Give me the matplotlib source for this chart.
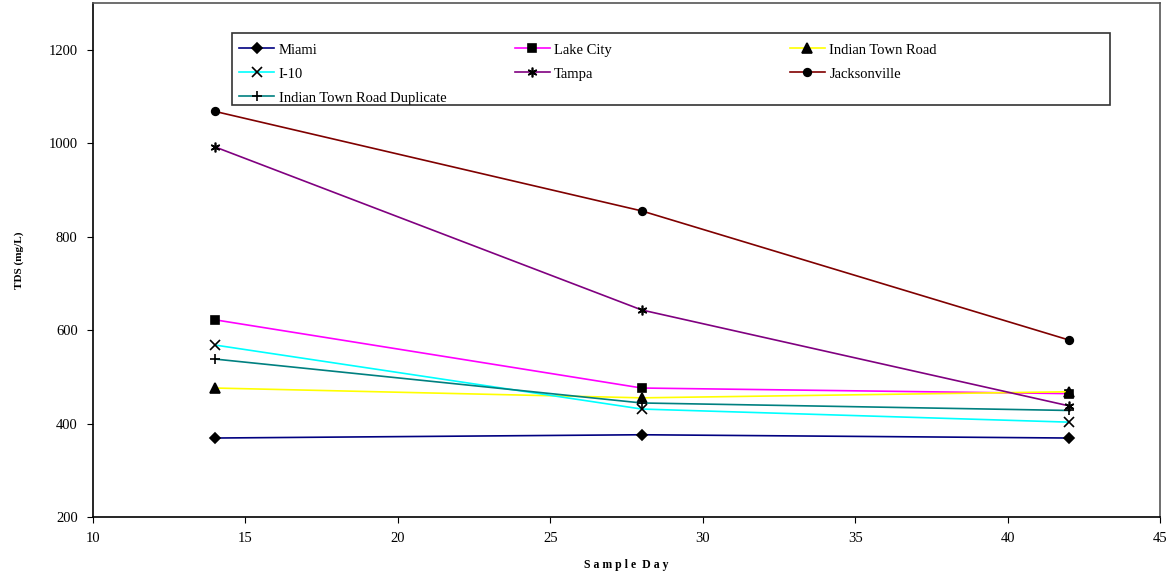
import matplotlib
matplotlib.use('Agg')
import matplotlib.pyplot as plt
from matplotlib.legend import Legend
from matplotlib.patches import Rectangle

plt.rcParams['font.family'] = ['Liberation Serif', 'DejaVu Serif']

days = [14, 28, 42]

miami = [369, 376, 369]
lake_city = [622, 476, 464]
indian_town_road = [476, 455, 468]
i_10 = [568, 431, 403]
tampa = [992, 643, 438]
jacksonville = [1068, 855, 579]
itr_duplicate = [538, 444, 428]

# name, values, line colour, marker, marker size
series = [
    ('Miami', miami, '#000080', 'D', 5),
    ('Lake City', lake_city, '#FF00FF', 's', 5.5),
    ('Indian Town Road', indian_town_road, '#FFFF00', '^', 6.5),
    ('I-10', i_10, '#00FFFF', 'x', 6.5),
    ('Tampa', tampa, '#800080', (6, 2, 0), 7),
    ('Jacksonville', jacksonville, '#800000', 'o', 5.5),
    ('Indian Town Road Duplicate', itr_duplicate, '#008080', '+', 7.5),
]

fig = plt.figure(figsize=(11.73, 5.77), dpi=100)
ax = fig.add_axes([0.0793, 0.104, 0.9097, 0.8908])

handles = {}
for name, vals, col, mk, ms in series:
    ln, = ax.plot(days, vals, color=col, lw=1.2, marker=mk, markersize=ms,
                  markerfacecolor='black', markeredgecolor='black',
                  markeredgewidth=1.2, label=name)
    handles[name] = ln

ax.set_xlim(10, 45)
ax.set_ylim(200, 1300)
ax.set_xticks(range(10, 46, 5))
ax.set_yticks(range(200, 1201, 200))
ax.tick_params(direction='out', length=4, labelsize=10.5, width=0.8, pad=7)

for side in ['left', 'bottom']:
    ax.spines[side].set_color('black')
    ax.spines[side].set_linewidth(1.2)
for side in ['top', 'right']:
    ax.spines[side].set_color('#555555')
    ax.spines[side].set_linewidth(1.2)

ax.set_xlabel('S a m p l e  D a y', fontsize=8.5, fontweight='bold', labelpad=10)
ax.set_ylabel('TDS (mg/L)', fontsize=8, fontweight='bold', labelpad=18)

# legend: one frameless legend per column, inside a single box
columns = [
    (0.133, ['Miami', 'I-10', 'Indian Town Road Duplicate']),
    (0.391, ['Lake City', 'Tampa']),
    (0.649, ['Indian Town Road', 'Jacksonville']),
]
for x0, names in columns:
    lg = Legend(ax, [handles[n] for n in names], names, loc='upper left',
                bbox_to_anchor=(x0, 0.930), frameon=False, fontsize=10.5,
                handlelength=2.4, handletextpad=0.3, labelspacing=0.74,
                borderaxespad=0, borderpad=0.3)
    ax.add_artist(lg)

ax.add_patch(Rectangle((0.130, 0.802), 0.823, 0.140, transform=ax.transAxes,
                       fill=False, edgecolor='#333333', lw=1.2, zorder=5))

fig.savefig('out.png', dpi=100)
